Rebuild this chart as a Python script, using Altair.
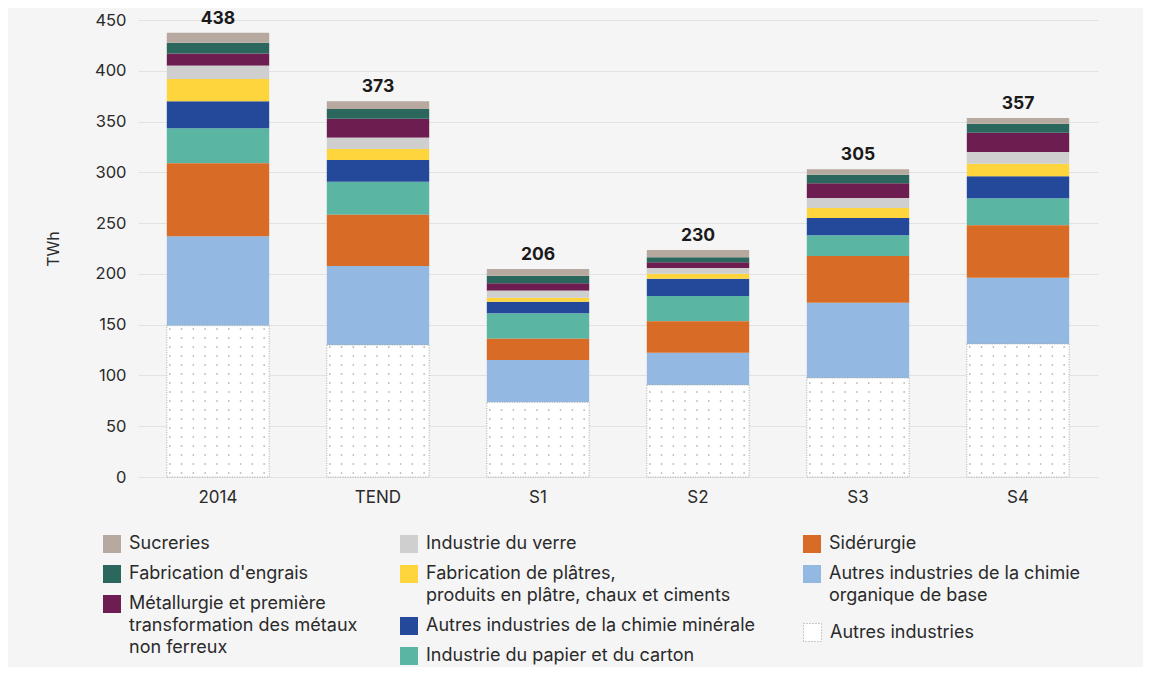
import altair as alt
import pandas as pd

scenarios = ["2014", "TEND", "S1", "S2", "S3", "S4"]
totals = [438, 373, 206, 230, 305, 357]

# categories from bottom of the stack to the top ("|" marks a line break in the legend)
categories = [
    "Autres industries",
    "Autres industries de la chimie|organique de base",
    "Sidérurgie",
    "Industrie du papier et du carton",
    "Autres industries de la chimie minérale",
    "Fabrication de plâtres,|produits en plâtre, chaux et ciments",
    "Industrie du verre",
    "Métallurgie et première|transformation des métaux|non ferreux",
    "Fabrication d'engrais",
    "Sucreries",
]
colors = ["#ffffff", "#93b8e2", "#d86c26", "#5ab6a3", "#24489a",
          "#ffd53d", "#cfcfcf", "#6d1d4f", "#2b675c", "#b7a99f"]

autres = [149, 130, 73.5, 90.6, 97.5, 131]
chimie_organique = [88, 77.8, 41.7, 31.8, 74.1, 65.2]
siderurgie = [72, 50.5, 21, 30.9, 46, 51.6]
papier = [34.5, 32.5, 25, 24.9, 20.4, 26.6]
chimie_minerale = [26.5, 21.3, 11.4, 17.1, 17, 21.7]
platres = [22, 10.9, 3.9, 4.9, 9.9, 12.4]
verre = [13, 11.1, 6.9, 5.3, 9.5, 11.2]
metallurgie = [12, 18.7, 7.3, 5.9, 14.8, 19.3]
engrais = [10.5, 9.5, 7.5, 4.9, 8.5, 8.9]
sucreries = [10, 7.6, 6.6, 7.2, 5.3, 5.6]

series = [autres, chimie_organique, siderurgie, papier, chimie_minerale,
          platres, verre, metallurgie, engrais, sucreries]

rows = []
for ci, (cat, vals) in enumerate(zip(categories, series)):
    for si, sc in enumerate(scenarios):
        rows.append({"scenario": sc, "category": cat, "order": ci,
                     "value": vals[si], "total": totals[si]})
df = pd.DataFrame(rows)
color_of = dict(zip(categories, colors))

FONT = "Inter"
TXT = "#2a2a2a"

x_enc = alt.X("scenario:N", sort=scenarios,
              scale=alt.Scale(paddingInner=0.36, paddingOuter=0.18),
              axis=alt.Axis(title=None, labelAngle=0, ticks=False, domain=False,
                            labelFontSize=17, labelPadding=12, labelColor=TXT,
                            labelFont=FONT, grid=False))
y_scale = alt.Scale(domain=[0, 450])
y_axis = alt.Axis(values=list(range(0, 451, 50)), title="TWh", grid=True,
                  gridColor="#e2e2e2", domain=False, ticks=False,
                  labelFontSize=16.5, labelColor=TXT, labelFont=FONT, labelPadding=12,
                  titleFontSize=16, titleFontWeight="normal", titleColor=TXT,
                  titleFont=FONT, titlePadding=33)

base = alt.Chart(df).transform_stack(
    stack="value", groupby=["scenario"], as_=["y0", "y1"],
    sort=[alt.SortField("order", order="ascending")])


def bar_layer(cats, lx, ly, dashed=False):
    legend = alt.Legend(
        title=None, orient="none", legendX=lx, legendY=ly, padding=0,
        symbolType="square", symbolSize=324, labelFontSize=18, labelFont=FONT,
        labelColor=TXT, labelLimit=600, labelOffset=8, rowPadding=12,
        labelExpr="split(datum.label, '|')",
        symbolStrokeWidth=1 if dashed else 0,
        symbolStrokeColor="#9a9a9a", symbolDash=[1, 2] if dashed else [1, 0])
    mark_kw = dict(stroke="#a8a8a8", strokeDash=[1, 1.5], strokeWidth=1) if dashed else {}
    return base.transform_filter(
        alt.FieldOneOfPredicate(field="category", oneOf=cats)
    ).mark_bar(**mark_kw).encode(
        x=x_enc,
        y=alt.Y("y0:Q", scale=y_scale, axis=y_axis),
        y2="y1:Q",
        color=alt.Color("category:N",
                        scale=alt.Scale(domain=cats, range=[color_of[c] for c in cats]),
                        legend=legend),
    )


col1 = [categories[9], categories[8], categories[7]]
col2 = [categories[6], categories[5], categories[4], categories[3]]
col3 = [categories[2], categories[1]]
col4 = [categories[0]]

layers = [
    bar_layer(col1, -35, 515),
    bar_layer(col2, 262, 515),
    bar_layer(col3, 665, 515),
    bar_layer(col4, 665, 603, dashed=True),
]

dots = alt.Chart(df).transform_filter(
    alt.datum.category == categories[0]
).transform_calculate(
    dots="sequence(4, datum.value - 1, 8.86)"
).transform_flatten(["dots"]).mark_rule(
    color="#b0b0b0", strokeWidth=1.5, strokeDash=[1.5, 10.3], xOffset=-49, x2Offset=51
).encode(x=alt.X("scenario:N", sort=scenarios), x2="scenario:N",
         y=alt.Y("dots:Q", scale=y_scale))

labels = alt.Chart(df).transform_joinaggregate(
    top="sum(value)", groupby=["scenario"]
).transform_filter(alt.datum.category == "Sucreries").mark_text(
    dy=-14, fontSize=17.5, fontWeight="bold", font=FONT, color="#1a1a1a"
).encode(x=alt.X("scenario:N", sort=scenarios), y=alt.Y("top:Q", scale=y_scale),
         text="total:Q")

chart = alt.layer(*layers, dots, labels).resolve_scale(color="independent").properties(
    width=960, height=457,
    autosize=alt.AutoSizeParams(type="none"),
    padding={"left": 130, "top": 12, "right": 45, "bottom": 190},
    background="#f5f5f5",
).configure(style={"guide-label": {"lineHeight": 22}}).configure_view(stroke=None)

chart.save("out.html", embed_options={"renderer": "svg", "actions": False})
